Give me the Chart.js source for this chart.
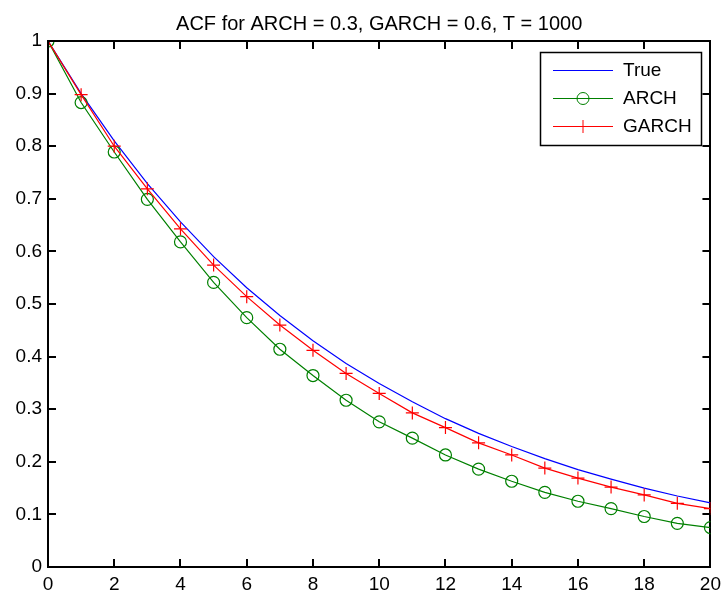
<!DOCTYPE html>
<html>
<head>
<meta charset="utf-8">
<script src="https://cdn.jsdelivr.net/npm/chart.js@4.4.1/dist/chart.umd.min.js"></script>
<style>
    html, body { margin: 0; padding: 0; background: #fff; }
</style>
</head>
<body>
<canvas id="myChart" width="727" height="594"></canvas>
<script>
const lags = [0, 1, 2, 3, 4, 5, 6, 7, 8, 9, 10, 11, 12, 13, 14, 15, 16, 17, 18, 19, 20];
const trueAcf = [1, 0.9, 0.81, 0.729, 0.656, 0.590, 0.531, 0.478, 0.430, 0.387, 0.349, 0.314, 0.282, 0.254, 0.229, 0.206, 0.185, 0.167, 0.150, 0.135, 0.122];
const archAcf = [1, 0.883, 0.789, 0.699, 0.618, 0.541, 0.474, 0.414, 0.364, 0.317, 0.276, 0.245, 0.213, 0.186, 0.163, 0.142, 0.125, 0.111, 0.096, 0.083, 0.075];
const garchAcf = [1, 0.898, 0.800, 0.719, 0.643, 0.574, 0.514, 0.460, 0.412, 0.368, 0.330, 0.293, 0.265, 0.236, 0.213, 0.188, 0.169, 0.152, 0.137, 0.121, 0.111];
const xTicks = [0, 2, 4, 6, 8, 10, 12, 14, 16, 18, 20];
const yTicks = [0, 0.1, 0.2, 0.3, 0.4, 0.5, 0.6, 0.7, 0.8, 0.9, 1];
const seriesNames = ['True', 'ARCH', 'GARCH'];
const seriesColors = ['#0000ff', '#008000', '#ff0000'];
const chartTitle = 'ACF for ARCH = 0.3, GARCH = 0.6, T = 1000';

const FONT = "'Liberation Sans', Arial, Helvetica, sans-serif";

const toPoints = arr => lags.map((k, i) => ({ x: k, y: arr[i] }));

// axes decorations: inward ticks on all four sides, legend box inside the axes
const matlabAxes = {
    id: 'matlabAxes',
    afterDraw(chart) {
        const c = chart.ctx;
        const a = chart.chartArea;
        const sx = chart.scales.x, sy = chart.scales.y;

        const len = 8;
        c.save();
        c.fillStyle = '#000';
        for (const v of xTicks) {
            const px = Math.round(sx.getPixelForValue(v));
            c.fillRect(px - 1, a.bottom - len, 2, len);
            c.fillRect(px - 1, a.top, 2, len);
        }
        for (const v of yTicks) {
            const py = Math.round(sy.getPixelForValue(v));
            c.fillRect(a.left, py - 1, len, 2);
            c.fillRect(a.right - len, py - 1, len, 2);
        }

        // legend
        const w = 161, h = 93;
        const left = Math.round(a.right - 9 - w);
        const top = Math.round(a.top + 11);
        c.fillStyle = '#fff';
        c.fillRect(left, top, w, h);
        c.strokeStyle = '#000';
        c.lineWidth = 1.5;
        c.strokeRect(left + 0.5, top + 0.5, w, h);
        c.font = '19px ' + FONT;
        c.textBaseline = 'middle';
        seriesNames.forEach((name, i) => {
            const ds = chart.data.datasets[i];
            const y = Math.round(top + 18 + i * 28) + 0.5;
            const x1 = left + 13, x2 = left + 73, xm = (x1 + x2) / 2;
            c.strokeStyle = seriesColors[i];
            c.lineWidth = 1;
            c.beginPath();
            c.moveTo(x1, y);
            c.lineTo(x2, y);
            c.stroke();
            if (ds.pointStyle === 'circle') {
                c.beginPath();
                c.arc(xm, y, ds.pointRadius, 0, Math.PI * 2);
                c.stroke();
            } else if (ds.pointStyle === 'cross') {
                c.beginPath();
                c.moveTo(xm, y - ds.pointRadius);
                c.lineTo(xm, y + ds.pointRadius);
                c.stroke();
            }
            c.fillStyle = '#000';
            c.fillText(name, left + 83, y);
        });
        c.restore();
    }
};

const tickSetter = vals => scale => { scale.ticks = vals.map(v => ({ value: v })); };
const noGrid = { display: false, drawTicks: false, tickLength: 0 };
const blackBorder = { display: true, color: '#000', width: 2 };

const ctx = document.getElementById('myChart');

new Chart(ctx, {
    type: 'line',
    data: {
        datasets: [{
            label: seriesNames[0],
            data: toPoints(trueAcf),
            borderColor: seriesColors[0],
            borderWidth: 1.2,
            pointRadius: 0,
            order: 3
        }, {
            label: seriesNames[1],
            data: toPoints(archAcf),
            borderColor: seriesColors[1],
            borderWidth: 1.2,
            pointStyle: 'circle',
            pointRadius: 6,
            pointBorderWidth: 1.2,
            pointBorderColor: seriesColors[1],
            pointBackgroundColor: 'rgba(0,0,0,0)',
            order: 2
        }, {
            label: seriesNames[2],
            data: toPoints(garchAcf),
            borderColor: seriesColors[2],
            borderWidth: 1.2,
            pointStyle: 'cross',
            pointRadius: 6.5,
            pointBorderWidth: 1.2,
            pointBorderColor: seriesColors[2],
            order: 1
        }]
    },
    options: {
        responsive: false,
        animation: false,
        events: [],
        layout: { padding: 0 },
        plugins: {
            legend: { display: false },
            tooltip: { enabled: false },
            title: {
                display: true,
                text: chartTitle,
                fullSize: false,
                color: '#000',
                font: { family: FONT, size: 20, weight: 'normal' },
                padding: { top: 12, bottom: 5 }
            }
        },
        scales: {
            x: {
                type: 'linear', position: 'bottom', min: 0, max: 20,
                afterBuildTicks: tickSetter(xTicks),
                afterFit: s => { s.height = 27; },
                grid: noGrid, border: blackBorder,
                ticks: { color: '#000', padding: 6, maxRotation: 0, font: { family: FONT, size: 19 } }
            },
            y: {
                type: 'linear', position: 'left', min: 0, max: 1,
                afterBuildTicks: tickSetter(yTicks),
                afterFit: s => { s.width = 48; },
                grid: noGrid, border: blackBorder,
                ticks: { color: '#000', padding: 6, font: { family: FONT, size: 19 },
                    callback: v => String(Number(v.toFixed(1))) }
            },
            x2: {
                type: 'linear', position: 'top', min: 0, max: 20,
                afterFit: s => { s.height = 0; },
                grid: noGrid, border: blackBorder,
                ticks: { display: false }
            },
            y2: {
                type: 'linear', position: 'right', min: 0, max: 1,
                afterFit: s => { s.width = 10; },
                grid: noGrid, border: blackBorder,
                ticks: { display: false }
            }
        }
    },
    plugins: [matlabAxes]
});
</script>
</body>
</html>
